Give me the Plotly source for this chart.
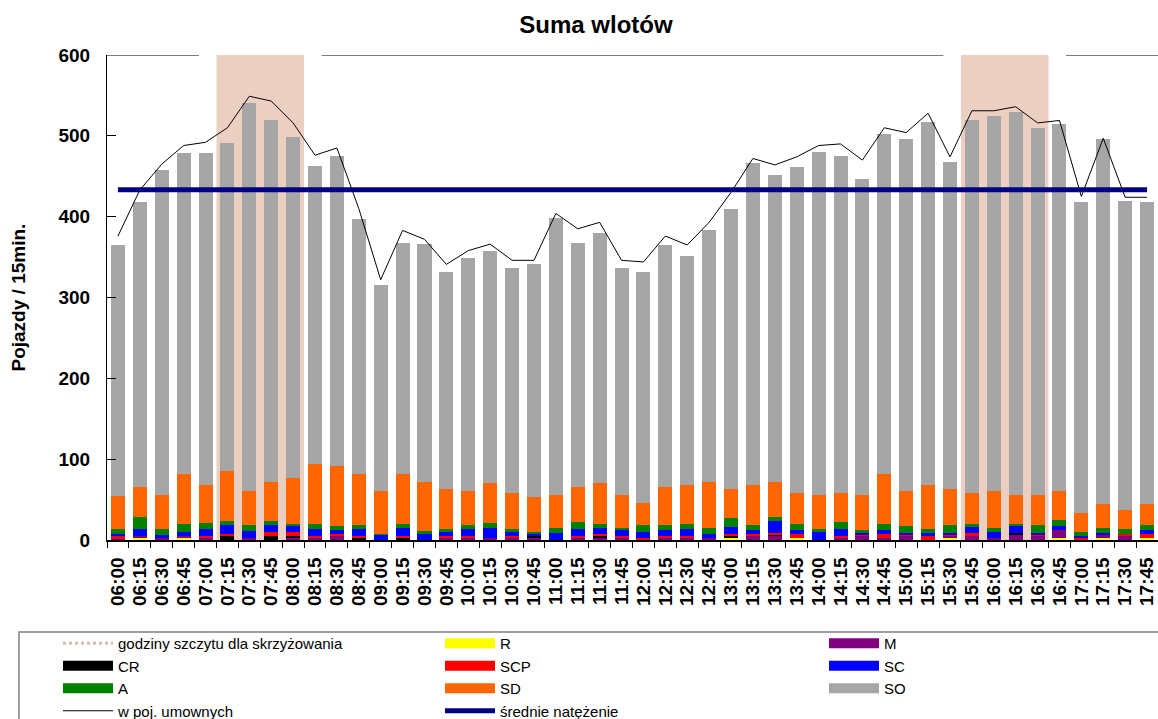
import plotly.graph_objects as go

# 15-minute intervals
TIMES = [
    "06:00", "06:15", "06:30", "06:45", "07:00", "07:15", "07:30", "07:45",
    "08:00", "08:15", "08:30", "08:45", "09:00", "09:15", "09:30", "09:45",
    "10:00", "10:15", "10:30", "10:45", "11:00", "11:15", "11:30", "11:45",
    "12:00", "12:15", "12:30", "12:45", "13:00", "13:15", "13:30", "13:45",
    "14:00", "14:15", "14:30", "14:45", "15:00", "15:15", "15:30", "15:45",
    "16:00", "16:15", "16:30", "16:45", "17:00", "17:15", "17:30", "17:45",
]

# vehicle classes, stacked bottom to top
R = [0, 3, 0, 3, 0, 0, 0, 0, 0, 0, 0, 0, 0, 0, 0, 0,
     0, 0, 0, 0, 0, 0, 0, 0, 0, 0, 0, 0, 3, 0, 0, 3,
     0, 0, 0, 0, 0, 0, 3, 0, 0, 0, 0, 3, 0, 3, 0, 3]
M = [1, 2, 3, 2, 3, 0, 3, 0, 3, 3, 5, 0, 0, 0, 0, 3,
     3, 3, 3, 3, 0, 3, 3, 3, 0, 3, 3, 3, 0, 5, 5, 0,
     0, 3, 5, 3, 5, 0, 2, 5, 3, 7, 5, 9, 0, 4, 5, 0]
CR = [0, 0, 0, 0, 0, 5, 0, 5, 2, 0, 0, 3, 0, 3, 0, 0,
      0, 0, 0, 2, 0, 0, 3, 0, 0, 0, 0, 0, 2, 0, 2, 0,
      0, 0, 0, 0, 0, 0, 0, 0, 0, 2, 0, 0, 0, 0, 0, 0]
SCP = [4, 0, 0, 0, 2, 2, 0, 5, 5, 2, 2, 2, 0, 2, 0, 2,
       2, 0, 2, 0, 0, 2, 1, 2, 3, 2, 2, 0, 2, 2, 2, 4,
       0, 2, 2, 4, 2, 5, 2, 4, 0, 0, 2, 0, 3, 0, 2, 4]
SC = [3, 8, 3, 5, 8, 11, 8, 8, 8, 8, 5, 8, 7, 10, 8, 5,
      8, 12, 5, 3, 9, 9, 8, 7, 7, 7, 9, 4, 9, 5, 14, 5,
      10, 9, 2, 5, 2, 4, 2, 7, 7, 8, 2, 5, 2, 2, 0, 5]
A = [5, 15, 7, 10, 8, 5, 7, 5, 2, 7, 5, 5, 1, 5, 3, 3,
     5, 6, 3, 2, 6, 8, 5, 3, 8, 6, 6, 8, 11, 6, 5, 8,
     3, 8, 3, 8, 8, 4, 9, 4, 5, 3, 9, 8, 5, 6, 6, 6]
SD = [41, 38, 43, 62, 47, 62, 43, 49, 57, 74, 75, 64, 53, 62, 61, 50,
      43, 49, 45, 43, 41, 44, 50, 41, 28, 48, 48, 57, 36, 50, 44, 38,
      43, 36, 44, 62, 44, 55, 45, 38, 46, 36, 38, 36, 23, 29, 24, 26]
SO = [311, 352, 402, 397, 411, 406, 480, 448, 422, 369, 383, 315, 255, 286, 294, 269,
      288, 288, 279, 289, 342, 302, 310, 281, 286, 299, 283, 312, 346, 398, 379, 403,
      424, 417, 391, 420, 435, 449, 405, 462, 464, 473, 454, 454, 385, 452, 383, 374]

# traffic in passenger car units
PCU = [376, 433, 465, 488, 492, 510, 549, 543, 516, 476, 485, 410, 322, 383, 372, 341,
       358, 366, 346, 346, 404, 385, 393, 346, 344, 376, 365, 393, 430, 472, 464, 474,
       488, 490, 470, 510, 504, 528, 474, 531, 531, 536, 516, 519, 425, 497, 424, 424]

# intersection peak hours (first and last interval)
PEAKS = [("07:15", "08:00"), ("15:45", "16:30")]

SERIES = [
    ("R", R, "#FFFF00"),
    ("M", M, "#800080"),
    ("CR", CR, "#000000"),
    ("SCP", SCP, "#FF0000"),
    ("SC", SC, "#0000FF"),
    ("A", A, "#008000"),
    ("SD", SD, "#FF6600"),
    ("SO", SO, "#A6A6A6"),
]
PEAK_NAME = "godziny szczytu dla skrzyżowania"
PCU_NAME = "w poj. umownych"
MEAN_NAME = "średnie natężenie"
Y_TITLE = "Pojazdy / 15min."
PEAK_COLOR = "#EBD0C2"
MEAN_COLOR = "#000080"

totals = [sum(v) for v in zip(R, M, CR, SCP, SC, A, SD, SO)]
mean_total = sum(totals) / len(totals)

FONT = "Arial, Liberation Sans, sans-serif"
W, H = 1158, 719
PLOT_LEFT, PLOT_TOP, PLOT_BOTTOM = 107, 55, 540
PLOT_W = W - PLOT_LEFT
PLOT_H = PLOT_BOTTOM - PLOT_TOP

# legend layout: three columns, filled row by row
LEGEND_COLUMNS = {
    "legend": [PEAK_NAME, "CR", "A", PCU_NAME],
    "legend2": ["R", "SCP", "SD", MEAN_NAME],
    "legend3": ["M", "SC", "SO"],
}
column_of = {name: col for col, names in LEGEND_COLUMNS.items() for name in names}
rank_of = {name: i for names in LEGEND_COLUMNS.values() for i, name in enumerate(names)}

fig = go.Figure()

for name, vals, color in SERIES:
    fig.add_trace(go.Bar(
        x=TIMES, y=vals, name=name, legendgroup=name, showlegend=False,
        marker=dict(color=color, line=dict(width=0)),
    ))

fig.add_trace(go.Scatter(
    x=TIMES, y=PCU, mode="lines", name=PCU_NAME,
    legend=column_of[PCU_NAME], legendrank=rank_of[PCU_NAME],
    line=dict(color="black", width=1),
))
fig.add_trace(go.Scatter(
    x=TIMES, y=[mean_total] * len(TIMES), mode="lines", name=MEAN_NAME,
    legend=column_of[MEAN_NAME], legendrank=rank_of[MEAN_NAME],
    line=dict(color=MEAN_COLOR, width=5),
))

# legend keys drawn as wide bands
for name, vals, color in SERIES:
    fig.add_trace(go.Scatter(
        x=[None], y=[None], mode="lines", name=name, legendgroup=name,
        legend=column_of[name], legendrank=rank_of[name],
        line=dict(color=color, width=12), hoverinfo="skip",
    ))
fig.add_trace(go.Scatter(
    x=[None], y=[None], mode="lines", name=PEAK_NAME,
    legend=column_of[PEAK_NAME], legendrank=rank_of[PEAK_NAME],
    line=dict(color="#DDB8A8", width=3, dash="dot"), hoverinfo="skip",
))

shapes = []
for t0, t1 in PEAKS:
    i0, i1 = TIMES.index(t0), TIMES.index(t1)
    shapes.append(dict(
        type="rect", xref="x", yref="y",
        x0=i0 - 0.5, x1=i1 + 0.5, y0=0, y1=600,
        fillcolor=PEAK_COLOR, line=dict(width=0), layer="below",
    ))

# top frame line, interrupted around the peak bands
edges = [-0.5]
for t0, t1 in PEAKS:
    edges += [TIMES.index(t0) - 1.3, TIMES.index(t1) + 1.3]
edges.append(len(TIMES) - 0.5)
for a, b in zip(edges[::2], edges[1::2]):
    shapes.append(dict(
        type="line", xref="x", yref="y", x0=a, x1=b, y0=600, y1=600,
        line=dict(color="black", width=1), layer="above",
    ))

# legend frame
shapes.append(dict(
    type="rect", xref="paper", yref="paper",
    x0=(19 - PLOT_LEFT) / PLOT_W, x1=1.05,
    y0=(PLOT_BOTTOM - 632) / PLOT_H, y1=(PLOT_BOTTOM - 760) / PLOT_H,
    line=dict(color="#808080", width=1.5), fillcolor="rgba(0,0,0,0)",
))


def legend_box(left_px):
    return dict(
        orientation="v", xref="container", yref="container",
        x=left_px / W, xanchor="left", y=1 - 627 / H, yanchor="top",
        font=dict(size=15, color="black"), itemwidth=50,
        bgcolor="rgba(0,0,0,0)", borderwidth=0,
        traceorder="normal", tracegroupgap=0,
        itemclick=False, itemdoubleclick=False,
    )


fig.update_layout(
    width=W, height=H,
    margin=dict(l=PLOT_LEFT, r=0, t=PLOT_TOP, b=H - PLOT_BOTTOM, pad=0, autoexpand=False),
    barmode="stack", bargap=0.36,
    plot_bgcolor="white", paper_bgcolor="white",
    font=dict(family=FONT, color="black"),
    title=dict(
        text="Suma wlotów", x=596 / W, xref="container", xanchor="center",
        y=1 - 25 / H, yref="container", yanchor="middle",
        font=dict(size=24, weight="bold"),
    ),
    xaxis=dict(
        type="category", range=[-0.5, len(TIMES) - 0.5],
        tickmode="linear", tick0=0, dtick=1,
        tickangle=-90, tickfont=dict(size=19, weight="bold"),
        ticks="outside", tickson="boundaries", ticklen=6, tickcolor="black",
        ticklabelstandoff=8, automargin=False,
        showline=True, linecolor="black", linewidth=1.5, showgrid=False,
    ),
    yaxis=dict(
        range=[0, 600], dtick=100, ticks="inside", ticklen=9, tickcolor="black",
        ticklabelstandoff=12, automargin=False,
        showline=True, linecolor="black", linewidth=1, showgrid=False, zeroline=False,
        tickfont=dict(size=19, weight="bold"),
    ),
    annotations=[dict(
        text=Y_TITLE, textangle=-90, showarrow=False,
        xref="paper", yref="paper", x=(18 - PLOT_LEFT) / PLOT_W, y=0.5,
        xanchor="center", yanchor="middle",
        font=dict(size=19, weight="bold", family=FONT, color="black"),
    )],
    legend=legend_box(58),
    legend2=legend_box(440),
    legend3=legend_box(824),
    shapes=shapes,
)

fig.write_html("out.html")
